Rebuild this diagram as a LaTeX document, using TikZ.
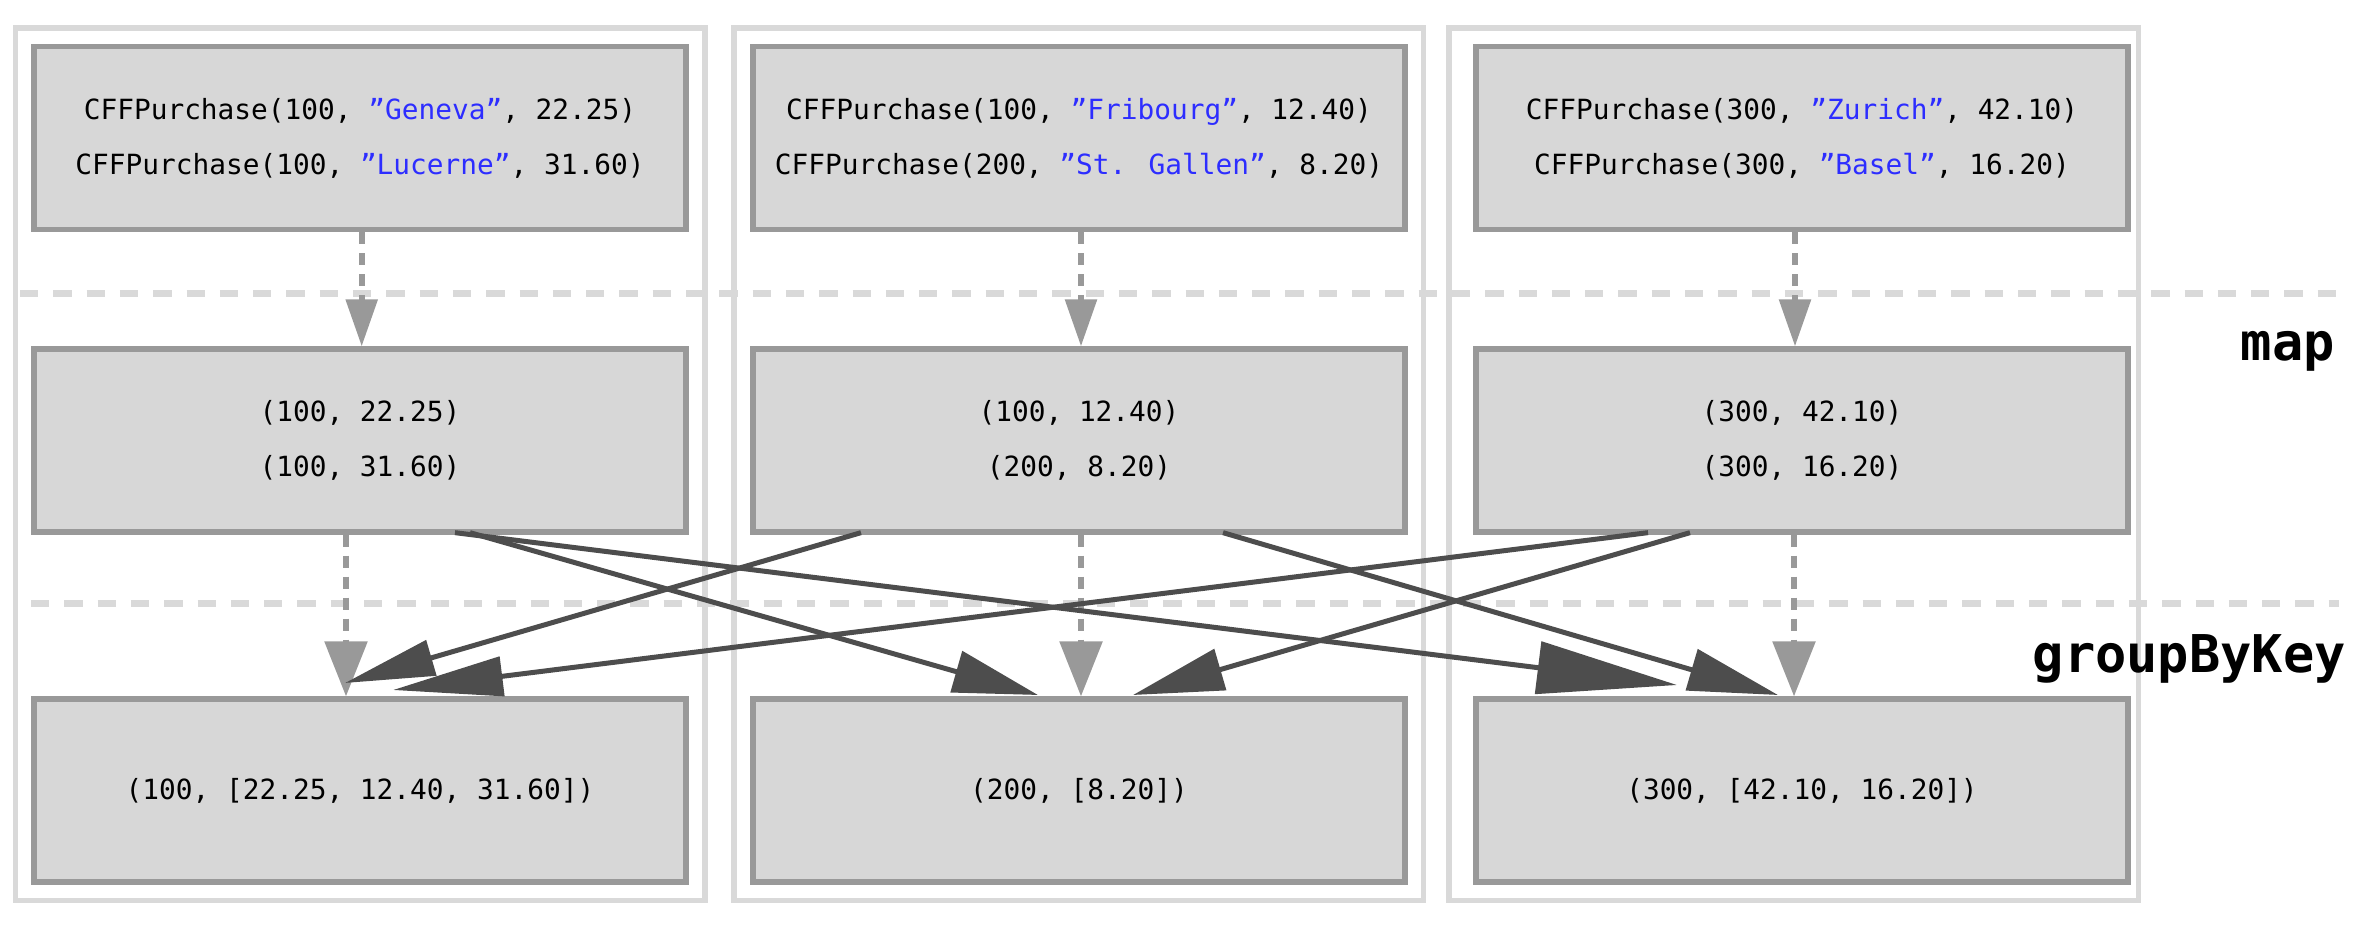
\documentclass[tikz,border=0pt]{standalone}
\usepackage{fontspec}
\newfontfamily\codefont{DejaVu Sans Mono}
\usetikzlibrary{arrows.meta,calc}
\definecolor{boxfill}{RGB}{215,215,215}
\definecolor{boxline}{RGB}{153,153,153}
\definecolor{clusterline}{RGB}{217,217,217}
\definecolor{darkarrow}{RGB}{77,77,77}
\definecolor{strblue}{RGB}{45,45,255}
\newcommand{\qstr}[1]{\textcolor{strblue}{”#1”}}
\begin{document}
\begin{tikzpicture}[x=1pt,y=-1pt,
  databox/.style={draw=boxline, fill=boxfill, line width=5.3pt, minimum width=652pt,
    minimum height=183pt, inner sep=0pt, align=center,
    font=\codefont\fontsize{27.8}{54.5}\selectfont},
  cluster/.style={draw=clusterline, line width=5.7pt, minimum width=689.5pt,
    minimum height=872.5pt, inner sep=0pt},
  layerline/.style={draw=clusterline, line width=7pt, dash pattern=on 18.3pt off 15pt},
  greyflow/.style={draw=boxline, line width=5.7pt, dash pattern=on 12pt off 9pt},
  shuffle/.style={draw=darkarrow, line width=5pt},
  layerlabel/.style={font=\codefont\bfseries\fontsize{52}{60}\selectfont,
    anchor=base east, inner sep=0pt}
]
\useasboundingbox (0,0) rectangle (2368,927);

% clusters
\node[cluster] (c1) at (360.25,464.25) {};
\node[cluster] (c2) at (1078.75,464.25) {};
\node[cluster] (c3) at (1793.75,464.25) {};

% layer separators
\draw[layerline] (20,293.5) -- (2338,293.5);
\draw[layerline] (31,603.5) -- (2339,603.5);

% boxes: input
\node[databox] (b1) at (360,138.25) {CFFPurchase(100, \qstr{Geneva}, 22.25)\\CFFPurchase(100, \qstr{Lucerne}, 31.60)};
\node[databox] (b2) at (1079,138.25) {CFFPurchase(100, \qstr{Fribourg}, 12.40)\\CFFPurchase(200, \qstr{St. Gallen}, 8.20)};
\node[databox] (b3) at (1802,138.25) {CFFPurchase(300, \qstr{Zurich}, 42.10)\\CFFPurchase(300, \qstr{Basel}, 16.20)};

% boxes: map
\node[databox] (m1) at (360,440.5) {(100, 22.25)\\(100, 31.60)};
\node[databox] (m2) at (1079,440.5) {(100, 12.40)\\(200, 8.20)};
\node[databox] (m3) at (1802,440.5) {(300, 42.10)\\(300, 16.20)};

% boxes: groupByKey
\node[databox] (g1) at (360,790.5) {(100, [22.25, 12.40, 31.60])};
\node[databox] (g2) at (1079,790.5) {(200, [8.20])};
\node[databox] (g3) at (1802,790.5) {(300, [42.10, 16.20])};

% labels
\node[layerlabel] (lmap) at (2335,360.7) {map};
\node[layerlabel] (lgbk) at (2346,672) {groupByKey};

% local flows
\draw[greyflow,-{Triangle[length=47pt,width=31pt]}] ($(b1.south)+(1.7,0)$) -- ($(m1.north)+(1.7,0)$);
\draw[greyflow,-{Triangle[length=47pt,width=31pt]}] ($(b2.south)+(2,0)$) -- ($(m2.north)+(2,0)$);
\draw[greyflow,-{Triangle[length=47pt,width=31pt]}] ($(b3.south)+(-7,0)$) -- ($(m3.north)+(-7,0)$);

\draw[greyflow,-{Triangle[length=55pt,width=42pt]}] ($(m1.south)+(-14,0)$) -- ($(g1.north)+(-14,0)$);
\draw[greyflow,-{Triangle[length=55pt,width=42pt]}] ($(m2.south)+(2,0)$) -- ($(g2.north)+(2,0)$);
\draw[greyflow,-{Triangle[length=55pt,width=42pt]}] ($(m3.south)+(-8,0)$) -- ($(g3.north)+(-8,0)$);

% shuffle flows
\draw[shuffle,-{Triangle[length=140pt,width=52pt]}] ($(m1.south)+(95,-2)$) -- ($(g3.north)+(-125,-11.35)$);
\draw[shuffle,-{Triangle[length=85pt,width=42pt]}] ($(m1.south)+(110,-2)$) -- ($(g2.north)+(-41,-1.35)$);
\draw[shuffle,-{Triangle[length=90pt,width=36pt]}] ($(m2.south)+(-218,-2)$) -- ($(g1.north)+(-15,-13.35)$);
\draw[shuffle,-{Triangle[length=110pt,width=39pt]}] ($(m3.south)+(-154,-2)$) -- ($(g1.north)+(33,-6.35)$);
\draw[shuffle,-{Triangle[length=91pt,width=42pt]}] ($(m3.south)+(-112,-2)$) -- ($(g2.north)+(54,-1.35)$);
\draw[shuffle,-{Triangle[length=90pt,width=42pt]}] ($(m2.south)+(144,-2)$) -- ($(g3.north)+(-24,-1.35)$);
\end{tikzpicture}
\end{document}
